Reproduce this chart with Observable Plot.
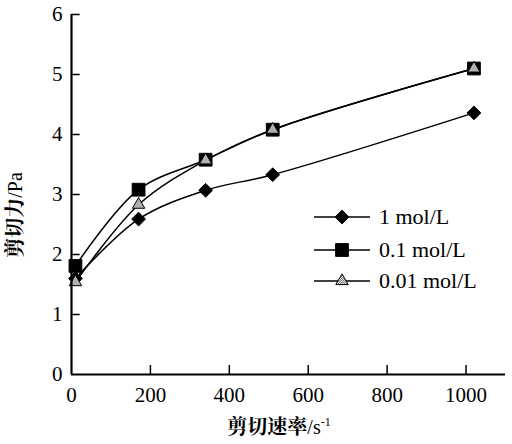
<!DOCTYPE html>
<html>
<head>
<meta charset="utf-8">
<script src="https://cdn.jsdelivr.net/npm/d3@7"></script>
<script src="https://cdn.jsdelivr.net/npm/@observablehq/plot@0.6"></script>
<style>
  html, body { margin: 0; padding: 0; background: #fff; }
  #wrap { position: relative; width: 512px; height: 444px; overflow: hidden; }
  #legend { position: absolute; left: 312px; top: 200px; font-family: "Liberation Serif", "Times New Roman", serif; font-size: 22px; color: #000; }
  #legend .row { height: 33px; display: flex; align-items: center; }
  #legend .row:nth-child(3) { height: 29px; }
  #legend svg { margin-right: 7px; }
</style>
</head>
<body>
<div id="wrap"><div id="legend"></div></div>
<script>
const series = ["1 mol/L", "0.1 mol/L", "0.01 mol/L"];
const shearRate = [10, 170, 340, 510, 1020];
const stress1 = [1.60, 2.59, 3.07, 3.33, 4.36];
const stress01 = [1.81, 3.08, 3.58, 4.08, 5.10];
const stress001 = [1.54, 2.83, 3.57, 4.08, 5.10];
const xTicks = [0, 200, 400, 600, 800, 1000];
const yTicks = [0, 1, 2, 3, 4, 5, 6];
const xLabel = "剪切速率";
const xUnit = "/s";
const yLabel = "剪切力";
const yUnit = "/Pa";

const symbols = {"1 mol/L": "diamond2", "0.1 mol/L": "square", "0.01 mol/L": "triangle"};
const fills = {"1 mol/L": "#000", "0.1 mol/L": "#000", "0.01 mol/L": "url(#hatch)"};
const radii = {"1 mol/L": 6.2, "0.1 mol/L": 7.2, "0.01 mol/L": 4.6};

const values = [stress1, stress01, stress001];
const data = [];
series.forEach((s, i) => shearRate.forEach((x, j) => data.push({series: s, x, y: values[i][j]})));

const serif = '"Liberation Serif", "Times New Roman", serif';
const cjk = '"Noto Serif CJK SC", "Noto Sans CJK SC", serif';

const marks = [
  Plot.line(data, {x: "x", y: "y", z: "series", curve: "catmull-rom", stroke: "#000", strokeWidth: 1.5})
];
series.forEach(s => {
  marks.push(Plot.dot(data.filter(d => d.series === s), {
    x: "x", y: "y", symbol: () => symbols[s], r: radii[s],
    fill: fills[s], stroke: "#000", strokeWidth: 1
  }));
});
// axes: inward ticks
marks.push(Plot.ruleX(xTicks.filter(d => d > 0), {x: d => d, y1: 0, y2: 0.15, stroke: "#000", strokeWidth: 1.5}));
marks.push(Plot.ruleY(yTicks.filter(d => d > 0), {y: d => d, x1: 0, x2: 22, stroke: "#000", strokeWidth: 1.5}));
marks.push(Plot.ruleY([0], {stroke: "#000", strokeWidth: 2.2}));
marks.push(Plot.ruleX([0], {stroke: "#000", strokeWidth: 2.2}));
marks.push(Plot.axisX({ticks: xTicks, tickSize: 0, tickPadding: 13, tickFormat: d => String(d), fontSize: 21, fontFamily: serif, label: null}));
marks.push(Plot.axisY({ticks: yTicks, tickSize: 0, tickPadding: 9, tickFormat: d => String(d), fontSize: 21, fontFamily: serif, label: null}));

const chart = Plot.plot({
  width: 512,
  height: 444,
  marginLeft: 71,
  marginRight: 7,
  marginTop: 14,
  marginBottom: 70,
  x: {domain: [0, 1100]},
  y: {domain: [0, 6]},
  style: {background: "#fff", color: "#000", overflow: "visible"},
  marks
});

const svg = d3.select(chart);
const pat = svg.insert("defs", ":first-child").append("pattern")
  .attr("id", "hatch").attr("patternUnits", "userSpaceOnUse")
  .attr("width", 2).attr("height", 2);
pat.append("rect").attr("width", 2).attr("height", 2).attr("fill", "#e0e0e0");
pat.append("rect").attr("width", 1).attr("height", 1).attr("fill", "#808080");
pat.append("rect").attr("x", 1).attr("y", 1).attr("width", 1).attr("height", 1).attr("fill", "#808080");

const xl = svg.append("text")
  .attr("x", 279).attr("y", 434)
  .attr("text-anchor", "middle")
  .attr("fill", "#000");
xl.append("tspan").attr("font-size", 20).attr("font-family", cjk).attr("font-weight", 700).text(xLabel);
xl.append("tspan").attr("font-size", 20).attr("font-family", serif).text(xUnit);
xl.append("tspan").attr("dy", -8).attr("font-size", 12).attr("font-family", serif).text("-1");

const ylg = svg.append("g").attr("opacity", 0.999);
const yl = ylg.append("text")
  .attr("transform", "translate(22,215) rotate(-90)")
  .attr("text-anchor", "middle")
  .attr("fill", "#000");
yl.append("tspan").attr("font-size", 20).attr("font-family", cjk).attr("font-weight", 700).attr("fill", "#000").text(yLabel);
yl.append("tspan").attr("font-size", 20).attr("font-family", serif).attr("fill", "#000").text(yUnit);

document.getElementById("wrap").prepend(chart);
chart.style.position = "absolute";
chart.style.left = "0";
chart.style.top = "0";

const legend = d3.select("#legend");
series.forEach(s => {
  const row = legend.append("div").attr("class", "row");
  const sv = row.append("svg").attr("width", 60).attr("height", 16);
  sv.append("line").attr("x1", 2).attr("x2", 58).attr("y1", 8).attr("y2", 8).attr("stroke", "#000").attr("stroke-width", 1.5);
  const sym = {"diamond2": d3.symbolDiamond2, "square": d3.symbolSquare, "triangle": d3.symbolTriangle}[symbols[s]];
  sv.append("path").attr("transform", "translate(30,8)")
    .attr("d", d3.symbol(sym, Math.PI * radii[s] * radii[s])())
    .attr("fill", fills[s]).attr("stroke", "#000");
  row.append("span").text(s);
});
</script>
</body>
</html>
